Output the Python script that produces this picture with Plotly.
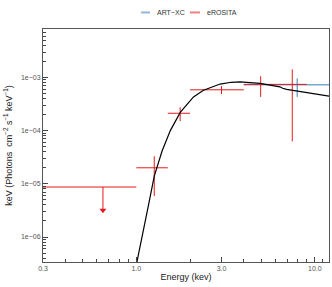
import numpy as np
import plotly.graph_objects as go

# ---- data ----
# eROSITA spectral points (keV, flux)
ero_x = [1.26, 1.76, 3.0, 4.97, 7.47]
ero_xlo = [1.0, 1.5, 2.0, 4.0, 6.0]
ero_xhi = [1.5, 2.0, 4.0, 6.0, 9.0]
ero_y = [2.0e-5, 2.12e-4, 5.85e-4, 7.4e-4, 7.4e-4]
ero_ylo = [5.9e-6, 1.5e-4, 4.85e-4, 4.3e-4, 6.3e-5]
ero_yhi = [3.3e-5, 2.75e-4, 6.85e-4, 1.05e-3, 1.42e-3]

# eROSITA upper limit
ul_x = [0.65]
ul_xlo = [0.3]
ul_xhi = [1.0]
ul_y = [8.7e-6]
ul_arrow_y = [3.2e-6]

# ART-XC point
art_x = [7.96]
art_xlo = [4.0]
art_xhi = [12.0]
art_y = [7.25e-4]
art_ylo = [4.3e-4]
art_yhi = [9.6e-4]

# model curve
model_x = [1.0, 1.048, 1.098, 1.172, 1.26, 1.305, 1.392, 1.55, 1.762, 2.09, 2.377,
           2.947, 3.4, 3.81, 4.93, 6.37, 6.6, 6.95, 8.24, 11.87, 12.0]
model_y = [3.0e-7, 6.3e-7, 1.3e-6, 4.1e-6, 1.4e-5, 2.0e-5, 4.1e-5, 1.0e-4, 2.2e-4, 4.3e-4, 5.75e-4,
           7.5e-4, 8.1e-4, 8.26e-4, 7.7e-4, 6.65e-4, 6.25e-4, 5.94e-4, 5.37e-4, 4.46e-4, 4.44e-4]

legend_names = ["ART\u2212XC", "eROSITA"]

x_tickvals = [0.3, 1.0, 3.0, 10.0]
x_ticktext = ["0.3", "1.0", "3.0", "10.0"]
x_minor = [0.4, 0.5, 0.6, 0.7, 0.8, 0.9, 2, 4, 5, 6, 7, 8, 9, 11]
y_tickvals = [1e-6, 1e-5, 1e-4, 1e-3]
y_ticktext = ["1e\u221206", "1e\u221205", "1e\u221204", "1e\u221203"]
y_minor = [m * 10.0 ** e for e in range(-7, -2) for m in range(2, 10)]

RED = "#E41A1C"
BLUE = "#377EB8"
FONT = "Liberation Sans, Arial"

fig = go.Figure()


def errs(c, lo, hi):
    return [h - v for v, h in zip(c, hi)], [v - l for v, l in zip(c, lo)]


ax_p, ax_m = errs(art_x, art_xlo, art_xhi)
ay_p, ay_m = errs(art_y, art_ylo, art_yhi)
fig.add_trace(go.Scatter(x=art_x, y=art_y, mode="markers", showlegend=False,
                         marker=dict(size=0.1, color=BLUE, opacity=0),
                         error_x=dict(type="data", symmetric=False, array=ax_p, arrayminus=ax_m,
                                      color=BLUE, thickness=1, width=0),
                         error_y=dict(type="data", symmetric=False, array=ay_p, arrayminus=ay_m,
                                      color=BLUE, thickness=1, width=0)))

ex_p, ex_m = errs(ero_x, ero_xlo, ero_xhi)
ey_p, ey_m = errs(ero_y, ero_ylo, ero_yhi)
fig.add_trace(go.Scatter(x=ero_x, y=ero_y, mode="markers", showlegend=False,
                         marker=dict(size=0.1, color=RED, opacity=0),
                         error_x=dict(type="data", symmetric=False, array=ex_p, arrayminus=ex_m,
                                      color=RED, thickness=1, width=0),
                         error_y=dict(type="data", symmetric=False, array=ey_p, arrayminus=ey_m,
                                      color=RED, thickness=1, width=0)))

ux_p, ux_m = errs(ul_x, ul_xlo, ul_xhi)
fig.add_trace(go.Scatter(x=ul_x, y=ul_y, mode="markers", showlegend=False,
                         marker=dict(size=0.1, color=RED, opacity=0),
                         error_x=dict(type="data", symmetric=False, array=ux_p, arrayminus=ux_m,
                                      color=RED, thickness=1, width=0)))
fig.add_trace(go.Scatter(x=[ul_x[0], ul_x[0]], y=[ul_y[0], ul_arrow_y[0]], mode="lines",
                         showlegend=False, line=dict(color=RED, width=1)))
fig.add_trace(go.Scatter(x=ul_x, y=ul_arrow_y, mode="markers", showlegend=False,
                         marker=dict(symbol="triangle-down", size=6, color=RED)))

fig.add_trace(go.Scatter(x=model_x, y=model_y, mode="lines", showlegend=False,
                         line=dict(color="black", width=1.2)))

# manual legend above the plot (paper coordinates)
leg_y = 1.071
legend_items = [(legend_names[0], "rgba(55,126,184,0.55)", 0.343, 0.374, 0.390),
                (legend_names[1], "rgba(228,26,28,0.55)", 0.514, 0.549, 0.568)]
for name, col, x0, x1, xt in legend_items:
    fig.add_shape(type="line", xref="paper", yref="paper", x0=x0, x1=x1, y0=leg_y, y1=leg_y,
                  line=dict(color=col, width=2))
    fig.add_annotation(xref="paper", yref="paper", x=xt, y=leg_y, text=name, showarrow=False,
                       xanchor="left", yanchor="middle",
                       font=dict(family=FONT, size=7, color="#333333"))

tickfont = dict(family=FONT, size=7, color="#555555")
titlefont = dict(family=FONT, size=9, color="#222222")

fig.update_layout(
    width=332, height=287,
    margin=dict(l=43, r=3, t=29, b=25, autoexpand=False),
    paper_bgcolor="white", plot_bgcolor="white",
    font=dict(family=FONT, size=7, color="#333333"),
    showlegend=False,
)

fig.update_xaxes(type="log", range=[np.log10(0.3), np.log10(12)], automargin=False,
                 tickvals=x_tickvals, ticktext=x_ticktext,
                 ticks="inside", ticklen=5, tickcolor="#444444", tickwidth=1,
                 showline=True, linecolor="#555555", linewidth=1, mirror=True,
                 showgrid=False, zeroline=False, tickfont=tickfont,
                 minor=dict(tickvals=x_minor, ticks="inside", ticklen=3,
                            tickcolor="#444444", showgrid=False),
                 title=dict(text="Energy (kev)", font=titlefont, standoff=2))
fig.update_yaxes(type="log", range=[-6.47, -2.09], automargin=False,
                 tickvals=y_tickvals, ticktext=y_ticktext,
                 ticks="inside", ticklen=5, tickcolor="#444444", tickwidth=1,
                 showline=True, linecolor="#555555", linewidth=1, mirror=True,
                 showgrid=False, zeroline=False, tickfont=tickfont,
                 minor=dict(tickvals=y_minor, ticks="inside", ticklen=3,
                            tickcolor="#444444", showgrid=False),
                 title=dict(text="keV (Photons  cm<sup>\u22122</sup> s<sup>\u22121</sup> keV<sup>\u22121</sup>)",
                            font=titlefont, standoff=6))

fig.write_html("out.html", config={"displayModeBar": False},
               post_script="document.body.style.margin='0px';")
